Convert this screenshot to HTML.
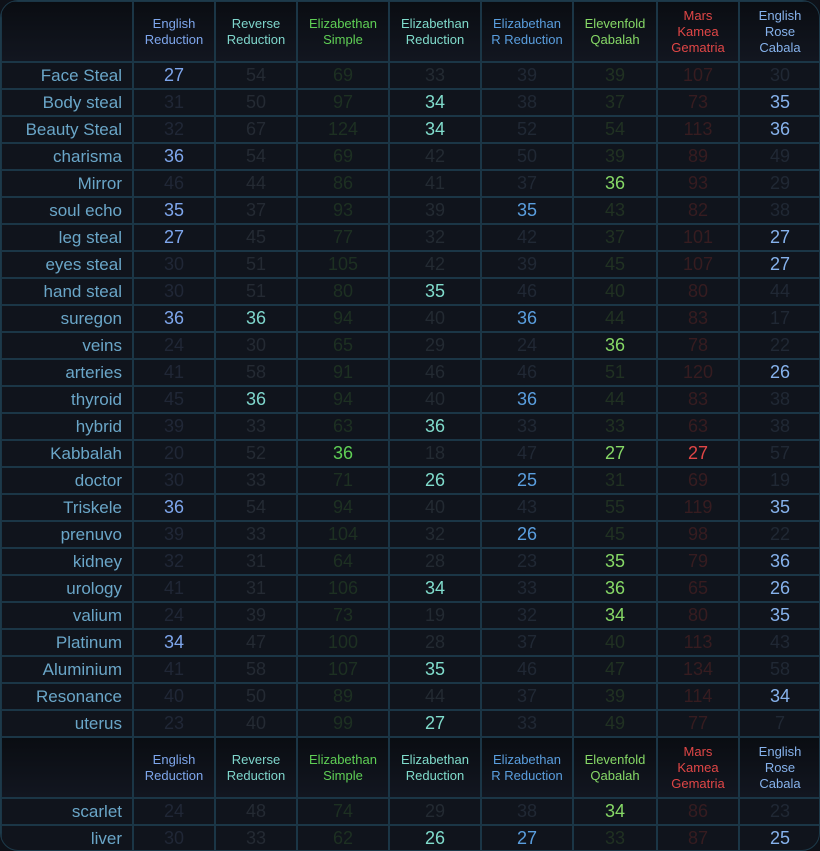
<!DOCTYPE html>
<html><head><meta charset="utf-8"><style>
html,body{margin:0;padding:0;background:#0e1118;}
.wrap{position:relative;width:818px;height:849px;border:1px solid #1d3a4a;border-radius:18px;overflow:hidden;background:#10141c;}
table{border-collapse:collapse;table-layout:fixed;width:820px;margin:-1px;font-family:"Liberation Sans",sans-serif;}
td,th{border:2px solid #1b3646;padding:0;text-align:center;}
th{height:59px;font-weight:normal;font-size:13px;line-height:16px;background:linear-gradient(#0a0d12,#121620);}
td{height:25px;font-size:18px;}
td:first-child{text-align:right;padding-right:10px;color:#6aa6c8;font-size:17px;}
th:nth-child(2){color:#7ea6ec}th:nth-child(3){color:#7fd6cc}th:nth-child(4){color:#5fcf55}th:nth-child(5){color:#80dccc}
th:nth-child(6){color:#5a9ede}th:nth-child(7){color:#86d866}th:nth-child(8){color:#e04646}th:nth-child(9){color:#86b2ec}
td:nth-child(2){color:#202736}td:nth-child(3){color:#242a33}td:nth-child(4){color:#1d3022}td:nth-child(5){color:#232a32}
td:nth-child(6){color:#202834}td:nth-child(7){color:#203122}td:nth-child(8){color:#361c20}td:nth-child(9){color:#202834}
td:nth-child(2).h{color:#7ea6ec}td:nth-child(3).h{color:#7fd6cc}td:nth-child(4).h{color:#5fcf55}td:nth-child(5).h{color:#80dccc}
td:nth-child(6).h{color:#5a9ede}td:nth-child(7).h{color:#86d866}td:nth-child(8).h{color:#e04646}td:nth-child(9).h{color:#86b2ec}
</style></head><body><div class="wrap"><table>
<colgroup><col style="width:132px"><col style="width:82px"><col style="width:82px"><col style="width:92px"><col style="width:92px"><col style="width:92px"><col style="width:84px"><col style="width:82px"><col style="width:82px"></colgroup>
<tr><th></th><th>English<br>Reduction</th><th>Reverse<br>Reduction</th><th>Elizabethan<br>Simple</th><th>Elizabethan<br>Reduction</th><th>Elizabethan<br>R Reduction</th><th>Elevenfold<br>Qabalah</th><th>Mars<br>Kamea<br>Gematria</th><th>English<br>Rose<br>Cabala</th></tr>
<tr><td>Face Steal</td><td class="h">27</td><td>54</td><td>69</td><td>33</td><td>39</td><td>39</td><td>107</td><td>30</td></tr>
<tr><td>Body steal</td><td>31</td><td>50</td><td>97</td><td class="h">34</td><td>38</td><td>37</td><td>73</td><td class="h">35</td></tr>
<tr><td>Beauty Steal</td><td>32</td><td>67</td><td>124</td><td class="h">34</td><td>52</td><td>54</td><td>113</td><td class="h">36</td></tr>
<tr><td>charisma</td><td class="h">36</td><td>54</td><td>69</td><td>42</td><td>50</td><td>39</td><td>89</td><td>49</td></tr>
<tr><td>Mirror</td><td>46</td><td>44</td><td>86</td><td>41</td><td>37</td><td class="h">36</td><td>93</td><td>29</td></tr>
<tr><td>soul echo</td><td class="h">35</td><td>37</td><td>93</td><td>39</td><td class="h">35</td><td>43</td><td>82</td><td>38</td></tr>
<tr><td>leg steal</td><td class="h">27</td><td>45</td><td>77</td><td>32</td><td>42</td><td>37</td><td>101</td><td class="h">27</td></tr>
<tr><td>eyes steal</td><td>30</td><td>51</td><td>105</td><td>42</td><td>39</td><td>45</td><td>107</td><td class="h">27</td></tr>
<tr><td>hand steal</td><td>30</td><td>51</td><td>80</td><td class="h">35</td><td>46</td><td>40</td><td>80</td><td>44</td></tr>
<tr><td>suregon</td><td class="h">36</td><td class="h">36</td><td>94</td><td>40</td><td class="h">36</td><td>44</td><td>83</td><td>17</td></tr>
<tr><td>veins</td><td>24</td><td>30</td><td>65</td><td>29</td><td>24</td><td class="h">36</td><td>78</td><td>22</td></tr>
<tr><td>arteries</td><td>41</td><td>58</td><td>91</td><td>46</td><td>46</td><td>51</td><td>120</td><td class="h">26</td></tr>
<tr><td>thyroid</td><td>45</td><td class="h">36</td><td>94</td><td>40</td><td class="h">36</td><td>44</td><td>83</td><td>38</td></tr>
<tr><td>hybrid</td><td>39</td><td>33</td><td>63</td><td class="h">36</td><td>33</td><td>33</td><td>63</td><td>38</td></tr>
<tr><td>Kabbalah</td><td>20</td><td>52</td><td class="h">36</td><td>18</td><td>47</td><td class="h">27</td><td class="h">27</td><td>57</td></tr>
<tr><td>doctor</td><td>30</td><td>33</td><td>71</td><td class="h">26</td><td class="h">25</td><td>31</td><td>69</td><td>19</td></tr>
<tr><td>Triskele</td><td class="h">36</td><td>54</td><td>94</td><td>40</td><td>43</td><td>55</td><td>119</td><td class="h">35</td></tr>
<tr><td>prenuvo</td><td>39</td><td>33</td><td>104</td><td>32</td><td class="h">26</td><td>45</td><td>98</td><td>22</td></tr>
<tr><td>kidney</td><td>32</td><td>31</td><td>64</td><td>28</td><td>23</td><td class="h">35</td><td>79</td><td class="h">36</td></tr>
<tr><td>urology</td><td>41</td><td>31</td><td>106</td><td class="h">34</td><td>33</td><td class="h">36</td><td>65</td><td class="h">26</td></tr>
<tr><td>valium</td><td>24</td><td>39</td><td>73</td><td>19</td><td>32</td><td class="h">34</td><td>80</td><td class="h">35</td></tr>
<tr><td>Platinum</td><td class="h">34</td><td>47</td><td>100</td><td>28</td><td>37</td><td>40</td><td>113</td><td>43</td></tr>
<tr><td>Aluminium</td><td>41</td><td>58</td><td>107</td><td class="h">35</td><td>46</td><td>47</td><td>134</td><td>58</td></tr>
<tr><td>Resonance</td><td>40</td><td>50</td><td>89</td><td>44</td><td>37</td><td>39</td><td>114</td><td class="h">34</td></tr>
<tr><td>uterus</td><td>23</td><td>40</td><td>99</td><td class="h">27</td><td>33</td><td>49</td><td>77</td><td>7</td></tr>
<tr><th></th><th>English<br>Reduction</th><th>Reverse<br>Reduction</th><th>Elizabethan<br>Simple</th><th>Elizabethan<br>Reduction</th><th>Elizabethan<br>R Reduction</th><th>Elevenfold<br>Qabalah</th><th>Mars<br>Kamea<br>Gematria</th><th>English<br>Rose<br>Cabala</th></tr>
<tr><td>scarlet</td><td>24</td><td>48</td><td>74</td><td>29</td><td>38</td><td class="h">34</td><td>86</td><td>23</td></tr>
<tr><td>liver</td><td>30</td><td>33</td><td>62</td><td class="h">26</td><td class="h">27</td><td>33</td><td>87</td><td class="h">25</td></tr>
</table></div></body></html>
